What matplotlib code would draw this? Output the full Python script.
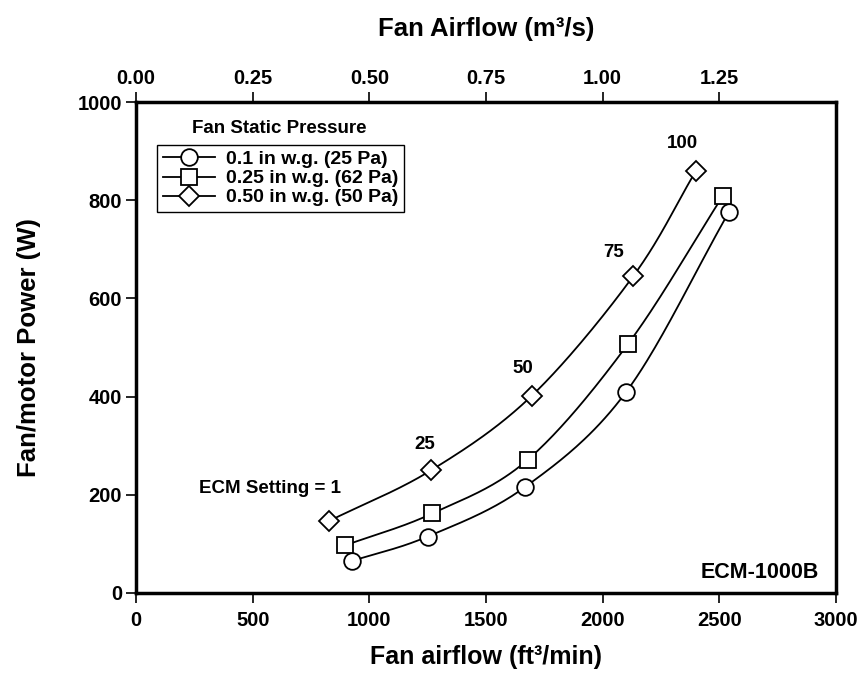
import numpy as np
import matplotlib.pyplot as plt

plt.rcParams['font.family'] = ['Liberation Sans', 'DejaVu Sans']
plt.rcParams['font.weight'] = 'bold'

# Fan airflow (cfm) and fan/motor power (W) at each static pressure
cfm_025 = [925, 1250, 1665, 2100, 2540]
watt_025 = [65, 115, 215, 409, 775]
cfm_062 = [897, 1270, 1678, 2110, 2514]
watt_062 = [97, 162, 271, 508, 808]
cfm_050 = [829, 1265, 1697, 2132, 2400]
watt_050 = [147, 250, 402, 646, 860]

series_labels = ['0.1 in w.g. (25 Pa)', '0.25 in w.g. (62 Pa)', '0.50 in w.g. (50 Pa)']
ecm_settings = ['ECM Setting = 1', '25', '50', '75', '100']

x_ticks = [0, 500, 1000, 1500, 2000, 2500, 3000]
y_ticks = [0, 200, 400, 600, 800, 1000]
m3s_ticks = [0.0, 0.25, 0.5, 0.75, 1.0, 1.25]


def catmull_rom(x, y, n=40):
    # smooth curve through the points, computed in axis-normalised units
    p = np.column_stack([np.asarray(x) / 3000.0, np.asarray(y) / 1000.0])
    p = np.vstack([2 * p[0] - p[1], p, 2 * p[-1] - p[-2]])
    out = []
    t = np.linspace(0, 1, n)[:, None]
    for i in range(1, len(p) - 2):
        p0, p1, p2, p3 = p[i - 1], p[i], p[i + 1], p[i + 2]
        seg = 0.5 * ((2 * p1) + (-p0 + p2) * t
                     + (2 * p0 - 5 * p1 + 4 * p2 - p3) * t ** 2
                     + (-p0 + 3 * p1 - 3 * p2 + p3) * t ** 3)
        out.append(seg)
    out = np.vstack(out)
    return out[:, 0] * 3000.0, out[:, 1] * 1000.0


fig = plt.figure(figsize=(8.64, 6.92), dpi=100)
ax = fig.add_axes([0.1574, 0.1431, 0.8102, 0.7095])

styles = [('o', 12, cfm_025, watt_025),
          ('s', 11, cfm_062, watt_062),
          ('D', 10, cfm_050, watt_050)]
handles = []
for (mk, ms, xs, ys), lab in zip(styles, series_labels):
    sx, sy = catmull_rom(xs, ys)
    ax.plot(sx, sy, color='black', lw=1.3, zorder=2)
    ax.plot(xs, ys, linestyle='none', marker=mk, markersize=ms,
            markerfacecolor='white', markeredgecolor='black',
            markeredgewidth=1.3, zorder=3)
    h, = ax.plot([], [], color='black', lw=1.3, marker=mk, markersize=ms,
                 markerfacecolor='white', markeredgecolor='black',
                 markeredgewidth=1.3)
    handles.append(h)

# ECM setting annotations along the 50 Pa curve
label_pos = [(574, 212), (1239, 303), (1656, 458), (2049, 693), (2341, 916)]
for txt, (lx, ly) in zip(ecm_settings, label_pos):
    ax.text(lx, ly, txt, ha='center', va='center', fontsize=13.5, fontweight='bold')

ax.text(2925, 41, 'ECM-1000B', ha='right', va='center', fontsize=15.5, fontweight='bold')
ax.text(613, 947, 'Fan Static Pressure', ha='center', va='center', fontsize=13.5,
        fontweight='bold')

leg = ax.legend(handles, series_labels, loc='upper left',
                bbox_to_anchor=(0.03, 0.913), frameon=True, fancybox=False,
                edgecolor='black', framealpha=1, handlelength=2.7,
                borderpad=0.3, labelspacing=0.08, handletextpad=0.55,
                borderaxespad=0, prop={'weight': 'bold', 'size': 14})
leg.get_frame().set_linewidth(1.0)

ax.set_xlim(0, 3000)
ax.set_ylim(0, 1000)
ax.set_xticks(x_ticks)
ax.set_yticks(y_ticks)
ax.tick_params(axis='both', direction='out', length=7, width=1.2,
               labelsize=14.5, pad=6)
ax.tick_params(axis='y', pad=3)
for lbl in ax.get_xticklabels() + ax.get_yticklabels():
    lbl.set_fontweight('bold')
for side in ['left', 'bottom', 'right', 'top']:
    ax.spines[side].set_linewidth(2.5)

ax.set_xlabel('Fan airflow (ft³/min)', fontsize=18, fontweight='bold', labelpad=11)
ax.set_ylabel('Fan/motor Power (W)', fontsize=18.5, fontweight='bold', labelpad=26)

# secondary airflow scale in m3/s
top = ax.twiny()
top.set_xlim(0, 1.5)
top.set_xticks(m3s_ticks)
top.set_xticklabels(['%.2f' % v for v in m3s_ticks])
top.tick_params(axis='x', direction='out', length=7, width=1.2, labelsize=14.5, pad=3)
for lbl in top.get_xticklabels():
    lbl.set_fontweight('bold')
top.set_xlabel('Fan Airflow (m³/s)', fontsize=18.5, fontweight='bold', labelpad=24)

fig.savefig('out.png', dpi=100)
